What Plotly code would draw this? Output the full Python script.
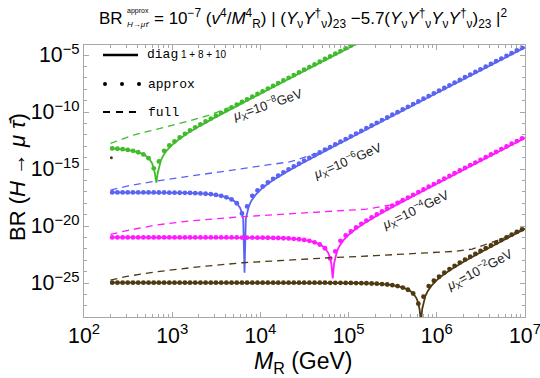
import numpy as np
import plotly.graph_objects as go

# log10(M_R / GeV) sampling of the "approx" dots (same grid for all four mu_X)
dots_logM = [2.32, 2.379, 2.438, 2.496, 2.555, 2.614, 2.673, 2.732, 2.791, 2.849,
             2.908, 2.967, 3.026, 3.085, 3.144, 3.202, 3.261, 3.32, 3.379, 3.438,
             3.496, 3.555, 3.614, 3.673, 3.732, 3.791, 3.849, 3.908, 3.967, 4.026,
             4.085, 4.144, 4.202, 4.261, 4.32, 4.379, 4.438, 4.496, 4.555, 4.614,
             4.673, 4.732, 4.791, 4.849, 4.908, 4.967, 5.026, 5.085, 5.144, 5.202,
             5.261, 5.32, 5.379, 5.438, 5.496, 5.555, 5.614, 5.673, 5.732, 5.791,
             5.849, 5.908, 5.967, 6.026, 6.085, 6.144, 6.202, 6.261, 6.32, 6.379,
             6.438, 6.496, 6.555, 6.614, 6.673, 6.732, 6.791, 6.849, 6.908, 6.967]

# log10 BR, approx (dots)
approx_m8 = [-13.19, -13.22, -13.26, -13.32, -13.40, -13.53, -13.72, -14.05, -14.94,
             -14.33, -13.40, -12.93, -12.58, -12.23, -11.91, -11.62, -11.34, -11.08, -10.82,
             -10.57, -10.32, -10.08, -9.84, -9.60, -9.36, -9.12, -8.89, -8.65, -8.42,
             -8.18, -7.94, -7.71, -7.47, -7.23, -7.00, -6.76, -6.53, -6.29, -6.06,
             -5.82, -5.59, -5.35, -5.12, -4.88, -4.65, -4.41, -4.18, -3.94]
approx_m6 = [-17.05, -17.05, -17.05, -17.05, -17.05, -17.05, -17.05, -17.05, -17.05,
             -17.06, -17.06, -17.07, -17.07, -17.08, -17.09, -17.10, -17.12,
             -17.14, -17.17, -17.21, -17.27, -17.35, -17.48, -17.67, -18.00, -18.89,
             -18.28, -17.35, -16.88, -16.53, -16.18, -15.86, -15.57, -15.29, -15.03, -14.77,
             -14.52, -14.27, -14.03, -13.79, -13.55, -13.31, -13.07, -12.84, -12.60, -12.37,
             -12.13, -11.89, -11.66, -11.42, -11.18, -10.95, -10.71, -10.48, -10.24, -10.01,
             -9.77, -9.54, -9.30, -9.07, -8.83, -8.60, -8.36, -8.13, -7.89, -7.66,
             -7.42, -7.19, -6.95, -6.72, -6.48, -6.25, -6.01, -5.78, -5.54, -5.31,
             -5.07, -4.84, -4.60, -4.37]
approx_m4 = [-21.00, -21.00, -21.00, -21.00, -21.00, -21.00, -21.00, -21.00, -21.00, -21.00,
             -21.00, -21.00, -21.00, -21.00, -21.00, -21.00, -21.00, -21.00, -21.00, -21.00,
             -21.00, -21.00, -21.00, -21.00, -21.00,
             -21.01, -21.01, -21.01, -21.02, -21.02, -21.03, -21.04, -21.05, -21.07,
             -21.09, -21.12, -21.16, -21.22, -21.30, -21.43, -21.62, -21.95, -22.84,
             -22.23, -21.30, -20.83, -20.48, -20.13, -19.81, -19.52, -19.24, -18.98, -18.72,
             -18.47, -18.22, -17.98, -17.74, -17.50, -17.26, -17.02, -16.79, -16.55, -16.32,
             -16.08, -15.84, -15.61, -15.37, -15.13, -14.90, -14.66, -14.43, -14.19, -13.96,
             -13.72, -13.49, -13.25, -13.02, -12.78, -12.55, -12.31]
approx_m2 = [-24.97, -24.97, -24.97, -24.97, -24.97, -24.97, -24.97, -24.97, -24.97, -24.97,
             -24.97, -24.97, -24.97, -24.97, -24.97, -24.97, -24.97, -24.97, -24.97, -24.97,
             -24.97, -24.97, -24.97, -24.97, -24.97, -24.97, -24.97, -24.97, -24.97, -24.97,
             -24.97, -24.97, -24.97, -24.97, -24.97, -24.97, -24.97, -24.97, -24.97, -24.97,
             -24.97, -24.97,
             -24.98, -24.98, -24.98, -24.99, -24.99, -25.00, -25.01, -25.02, -25.04,
             -25.06, -25.09, -25.13, -25.19, -25.27, -25.40, -25.59, -25.92, -26.81,
             -26.20, -25.27, -24.80, -24.45, -24.10, -23.78, -23.49, -23.21, -22.95, -22.69,
             -22.44, -22.19, -21.95, -21.71, -21.47, -21.23, -20.99, -20.76, -20.52, -20.29]

# diag 1+8+10 (solid lines)
diag_m8_logM = [2.30, 2.47, 2.57, 2.64, 2.70, 2.74, 2.77, 2.79, 2.805, 2.82, 2.835, 2.85,
                2.87, 2.90, 2.94, 3.00, 3.07, 3.17, 3.32, 3.52, 3.82, 4.32, 4.82, 5.32]
diag_m8 = [-13.18, -13.29, -13.43, -13.60, -13.84, -14.12, -14.47, -14.88, -15.45, -16.20,
           -15.39, -14.76, -14.27, -13.80, -13.36, -12.88, -12.43, -11.89, -11.19, -10.34,
           -9.11, -7.10, -5.10, -3.10]
diag_m6_logM = [2.30, 2.82, 3.12, 3.32, 3.47, 3.57, 3.64, 3.70, 3.74, 3.77, 3.79, 3.805, 3.82,
                3.835, 3.85, 3.87, 3.90, 3.94, 4.00, 4.07, 4.17, 4.32, 4.52, 4.82, 5.32,
                5.82, 6.32, 6.82, 7.0]
diag_m6 = [-17.05, -17.06, -17.09, -17.14, -17.24, -17.38, -17.55, -17.79, -18.07, -18.42,
           -18.83, -19.40, -24.10, -19.34, -18.71, -18.22, -17.75, -17.31, -16.83, -16.38,
           -15.84, -15.14, -14.29, -13.06, -11.05, -9.05, -7.05, -5.05, -4.33]
diag_m4_logM = [2.30, 3.82, 4.12, 4.32, 4.47, 4.57, 4.64, 4.70, 4.74, 4.77, 4.79, 4.805, 4.82,
                4.835, 4.85, 4.87, 4.90, 4.94, 5.00, 5.07, 5.17, 5.32, 5.52, 5.82, 6.32,
                6.82, 7.0]
diag_m4 = [-21.00, -21.01, -21.04, -21.09, -21.19, -21.33, -21.50, -21.74, -22.02, -22.37,
           -22.78, -23.35, -24.60, -23.29, -22.66, -22.17, -21.70, -21.26, -20.78, -20.33,
           -19.79, -19.09, -18.24, -17.01, -15.00, -13.00, -12.28]
diag_m2_logM = [2.30, 4.82, 5.12, 5.32, 5.47, 5.57, 5.64, 5.70, 5.74, 5.77, 5.79, 5.805, 5.82,
                5.835, 5.85, 5.87, 5.90, 5.94, 6.00, 6.07, 6.17, 6.32, 6.52, 6.82, 7.0]
diag_m2 = [-24.97, -24.98, -25.00, -25.06, -25.16, -25.30, -25.47, -25.71, -25.99, -26.34,
           -26.75, -27.32, -28.40, -27.26, -26.63, -26.14, -25.67, -25.23, -24.75, -24.30,
           -23.76, -23.06, -22.21, -20.98, -20.25]

# full (dashed lines)
full_m8_logM = [2.30, 2.40, 2.56, 2.70, 2.82, 3.00, 3.20, 3.40, 3.58, 3.80, 4.00, 4.50, 5.10]
full_m8 = [-12.75, -12.45, -12.02, -11.75, -11.52, -11.15, -10.76, -10.32, -9.82, -9.12,
           -8.38, -6.40, -4.00]
full_m6_logM = [2.30, 2.50, 2.82, 3.20, 3.58, 3.82, 4.00, 4.34, 4.68, 5.00, 5.50, 6.00, 7.00]
full_m6 = [-16.84, -16.48, -16.05, -15.63, -15.24, -14.98, -14.79, -14.36, -13.53, -12.33,
           -10.33, -8.33, -4.32]
full_m4_logM = [2.30, 2.50, 2.82, 3.20, 3.80, 4.30, 4.79, 5.20, 5.47, 5.70, 5.85, 6.00, 6.50, 7.00]
full_m4 = [-20.73, -20.38, -19.91, -19.55, -19.18, -18.95, -18.74, -18.52, -18.16, -17.45,
           -16.90, -16.28, -14.28, -12.27]
full_m2_logM = [2.30, 2.50, 2.82, 3.30, 3.80, 4.30, 4.79, 5.30, 5.85, 6.20, 6.40, 6.57, 6.75,
                6.87, 7.00]
full_m2 = [-24.74, -24.40, -24.01, -23.58, -23.22, -22.97, -22.78, -22.60, -22.40, -22.22,
           -22.02, -21.55, -21.10, -20.64, -20.22]

# lone brown point near the left edge
stray_logM = [2.31]
stray = [-14.0]

colors = {"m8": "#3fbb2c", "m6": "#5a64f2", "m4": "#ff1aff", "m2": "#4e3a12"}
labels = {"m8": "−8", "m6": "−6", "m4": "−4", "m2": "−2"}

series = [
    ("m8", diag_m8_logM, diag_m8, approx_m8, full_m8_logM, full_m8),
    ("m6", diag_m6_logM, diag_m6, approx_m6, full_m6_logM, full_m6),
    ("m4", diag_m4_logM, diag_m4, approx_m4, full_m4_logM, full_m4),
    ("m2", diag_m2_logM, diag_m2, approx_m2, full_m2_logM, full_m2),
]


def p10(a):
    return np.power(10.0, np.array(a, dtype=float))


fig = go.Figure()

for key, dx, dy, ay, fx, fy in series:
    c = colors[key]
    fig.add_trace(go.Scatter(x=p10(fx), y=p10(fy), mode="lines",
                             line=dict(color=c, width=1.3, dash="7px,5px"),
                             showlegend=False))
    fig.add_trace(go.Scatter(x=p10(dx), y=p10(dy), mode="lines",
                             line=dict(color=c, width=1.8), showlegend=False))
    fig.add_trace(go.Scatter(x=p10(dots_logM[:len(ay)]), y=p10(ay), mode="markers",
                             marker=dict(color=c, size=4.8), showlegend=False))

fig.add_trace(go.Scatter(x=p10(stray_logM), y=p10(stray), mode="markers",
                         marker=dict(color=colors["m2"], size=3), showlegend=False))

# plot area in pixels: left 84, right 525, top 45, bottom 317
L, R, T, B = 84, 525, 45, 317


def px(x):
    return (x - L) / (R - L)


def py(y):
    return (B - y) / (B - T)


frame = "#a8a8a8"
fig.update_xaxes(type="log", range=[1.9999, 7.0001], dtick=1, exponentformat="power",
                 automargin=False, ticklabeloverflow="allow",
                 showgrid=False, zeroline=False, showline=True, linecolor=frame,
                 linewidth=1, mirror="allticks", ticks="inside", ticklen=5,
                 tickcolor=frame, tickfont=dict(size=17, color="black"),
                 minor=dict(ticks="inside", ticklen=3, tickcolor=frame, dtick="D1"))
fig.update_yaxes(type="log", range=[-27.98, -4.12], dtick=5, tick0=0,
                 exponentformat="power", automargin=False, ticklabeloverflow="allow",
                 showgrid=False, zeroline=False,
                 showline=True, linecolor=frame, linewidth=1, mirror="allticks",
                 ticks="inside", ticklen=5, tickcolor=frame,
                 tickfont=dict(size=17, color="black"),
                 minor=dict(ticks="inside", ticklen=3, tickcolor=frame, dtick=1))

ann = []
# axis titles
ann.append(dict(text="<i>M</i><sub>R</sub> (GeV)", x=px(303), y=py(362),
                xanchor="center", yanchor="middle",
                font=dict(family="Liberation Sans", size=23, color="black")))
ann.append(dict(text="BR (<i>H</i> → <i>μ</i> <i>τ̄</i>)", x=px(17), y=py(177),
                xanchor="center", yanchor="middle", textangle=-90,
                font=dict(family="Liberation Sans", size=22, color="black")))

# title, built from pieces so that "approx" sits above the subscript
tfont = dict(family="Liberation Sans", size=17, color="black")
ann.append(dict(text="BR", x=px(125), y=py(19), xanchor="right", yanchor="middle",
                font=tfont))
ann.append(dict(text="approx", x=px(125), y=py(11), xanchor="left", yanchor="middle",
                font=dict(family="Liberation Sans", size=7, color="black")))
ann.append(dict(text="<i>H</i>→<i>μτ̄</i>", x=px(125), y=py(24), xanchor="left",
                yanchor="middle", font=dict(family="Liberation Sans", size=8, color="black")))
ann.append(dict(text="= 10<sup>−7</sup> (<i>v</i><sup>4</sup>/<i>M</i><sup>4</sup><sub>R</sub>)"
                     " | (<i>Y</i><sub>ν</sub><i>Y</i><sup>†</sup><sub>ν</sub>)<sub>23</sub>"
                     " −5.7(<i>Y</i><sub>ν</sub><i>Y</i><sup>†</sup><sub>ν</sub><i>Y</i>"
                     "<sub>ν</sub><i>Y</i><sup>†</sup><sub>ν</sub>)<sub>23</sub> |<sup>2</sup>",
                x=px(152), y=py(19), xanchor="left", yanchor="middle", font=tfont))

# mu_X labels along the curves
lab_pos = {"m8": (267, 105, -19), "m6": (347, 161, -23),
           "m4": (415, 210, -26), "m2": (479, 270, -28)}
for key, (lx, ly, ang) in lab_pos.items():
    ann.append(dict(text="<i>μ</i><sub>X</sub>=10<sup>" + labels[key] + "</sup>GeV",
                    x=px(lx), y=py(ly), xanchor="center", yanchor="middle",
                    textangle=ang, font=dict(family="Liberation Sans", size=13,
                                             color="#222222")))

# legend (drawn by hand, top left)
mono = dict(family="Liberation Mono", size=13, color="black")
ann.append(dict(text="diag<span style='font-family:Liberation Sans;font-size:10px'>"
                     " 1 + 8 + 10</span>", x=px(145), y=py(55), xanchor="left",
                yanchor="middle", font=mono))
ann.append(dict(text="approx", x=px(146), y=py(84), xanchor="left", yanchor="middle",
                font=mono))
ann.append(dict(text="full", x=px(146), y=py(112), xanchor="left", yanchor="middle",
                font=mono))
for a in ann:
    a.update(xref="paper", yref="paper", showarrow=False)

shapes = [dict(type="line", xref="paper", yref="paper", x0=px(103), x1=px(138),
               y0=py(55), y1=py(55), line=dict(color="black", width=2.5)),
          dict(type="line", xref="paper", yref="paper", x0=px(103), x1=px(141),
               y0=py(112), y1=py(112), line=dict(color="black", width=2.2, dash="7px,6px"))]
for cx in (105, 122, 139):
    shapes.append(dict(type="circle", xref="paper", yref="paper", x0=px(cx - 2),
                       x1=px(cx + 2), y0=py(86), y1=py(82), fillcolor="black",
                       line=dict(width=0)))

fig.update_layout(width=540, height=378, margin=dict(l=L, r=540 - R, t=T, b=378 - B),
                  plot_bgcolor="white", paper_bgcolor="white",
                  font=dict(family="Liberation Sans", color="black"),
                  annotations=ann, shapes=shapes)

# drop the page's default body margin so the figure sits at the window corner
fig.write_html("out.html", config={"displayModeBar": False},
               post_script="document.body.style.margin='0';")
